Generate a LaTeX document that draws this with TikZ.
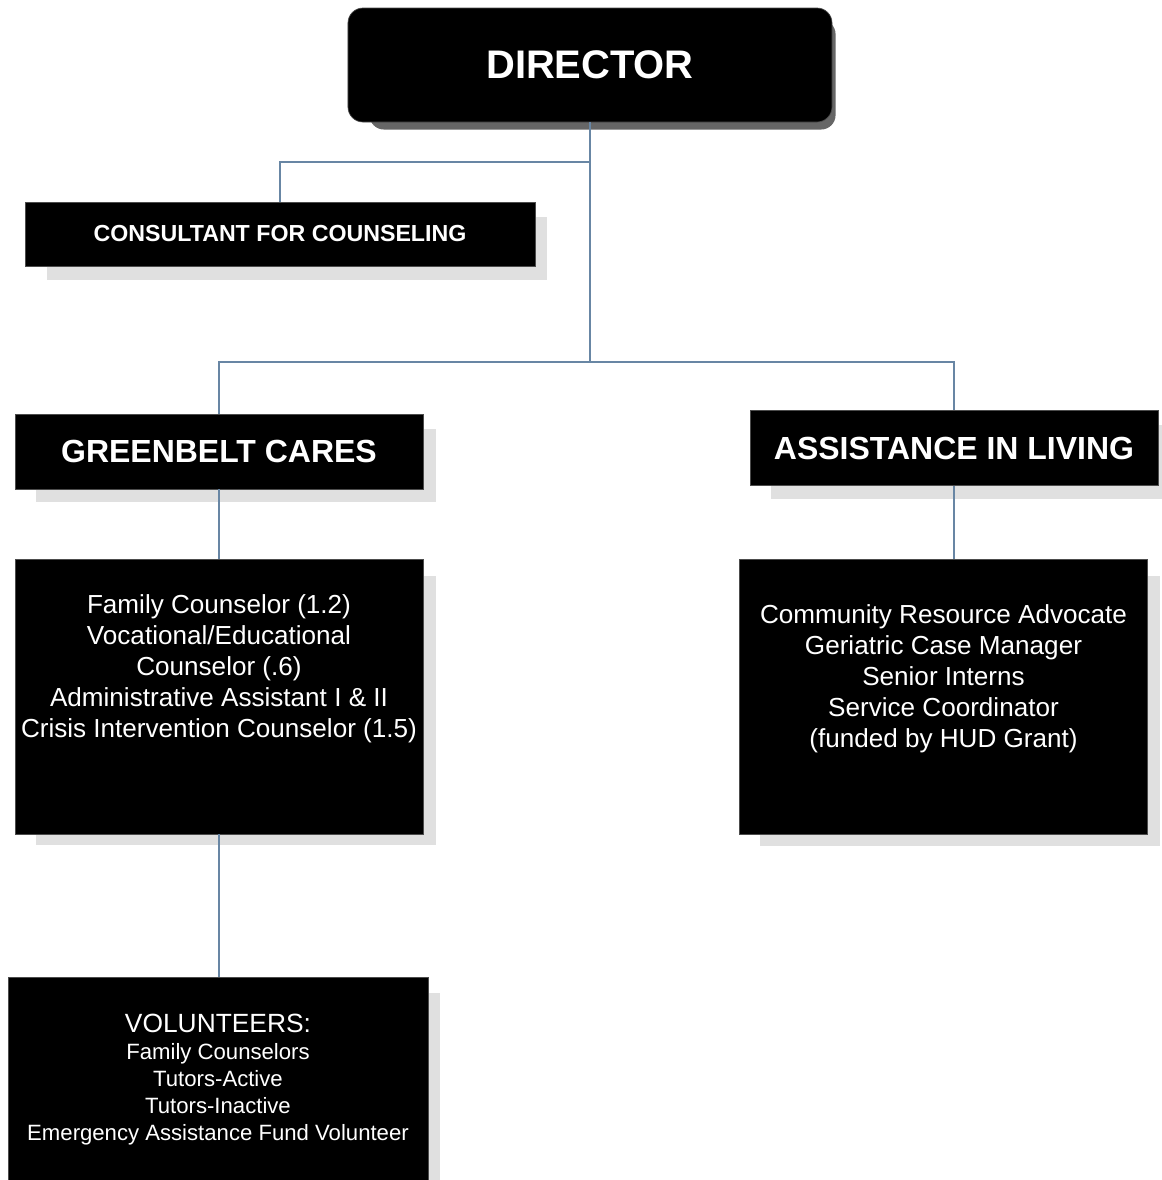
\documentclass[tikz,border=0pt]{standalone}
\usepackage{fontspec}
\setmainfont{Liberation Sans}
\usepackage{tikz}
\usetikzlibrary{positioning,shadows}
\definecolor{LinkBlue}{RGB}{104,134,164}

\begin{document}
\begin{tikzpicture}[x=0.2mm, y=-0.2mm]
    \tikzstyle{org-box}=[rectangle, draw=black!70, line width=0.4pt, fill=black, text=white, inner sep=0pt]
    \tikzstyle{light-shadow}=[drop shadow={shadow xshift=3.4mm, shadow yshift=-2.9mm, shadow scale=0.98, fill=black!12, opacity=1}]
    \tikzstyle{org-head}=[org-box, light-shadow, minimum width=81.6mm, minimum height=15mm, font=\fontsize{18.2}{20}\selectfont\bfseries]
    \tikzstyle{org-staff}=[org-box, light-shadow, minimum width=81.6mm, minimum height=55mm]
    \tikzstyle{staff-text}=[text=white, align=center, inner sep=0pt, font=\fontsize{14.85}{17.6}\selectfont]
    \tikzstyle{liaison}=[draw=LinkBlue, line width=0.4mm]

    \useasboundingbox (0,0) rectangle (1162,1180);
    \clip (0,0) rectangle (1162,1180);

    \node[org-box, rounded corners=3mm, minimum width=96.8mm, minimum height=22.8mm, font=\fontsize{22.7}{26}\selectfont\bfseries, drop shadow={shadow xshift=2.6mm, shadow yshift=-2mm, shadow scale=0.963, fill=black!60, opacity=1}] (director) at (590,65) {DIRECTOR};

    \node[org-box, light-shadow, minimum width=102mm, minimum height=12.8mm, font=\fontsize{13.2}{15}\selectfont\bfseries] (consultant) at (280,234) {CONSULTANT FOR COUNSELING};

    \node[org-head] (greenbelt-cares) at (219,451.5) {GREENBELT CARES};
    \node[org-head] (assistance-living) at (954,448) {ASSISTANCE IN LIVING};

    \node[org-staff] (greenbelt-staff) at (219,696.5) {};
    \node[staff-text] (greenbelt-staff-text) at (219,669) {Family Counselor (1.2)\\ Vocational/Educational\\ Counselor (.6)\\ Administrative Assistant I \& II\\ Crisis Intervention Counselor (1.5)};

    \node[org-staff] (assistance-staff) at (943.5,697) {};
    \node[staff-text] (assistance-staff-text) at (943.5,678.5) {Community Resource Advocate\\ Geriatric Case Manager\\ Senior Interns\\ Service Coordinator\\ (funded by HUD Grant)};

    \node[org-box, light-shadow, minimum width=84mm, minimum height=44.4mm] (volunteers) at (218,1088) {};
    \node[staff-text, anchor=north, font=\fontsize{12.6}{15.3}\selectfont] (volunteers-text) at (218,1014) {{\fontsize{15}{15.3}\selectfont VOLUNTEERS:}\\ Family Counselors\\ Tutors-Active\\ Tutors-Inactive\\ Emergency Assistance Fund Volunteer};

    % connectors
    \coordinate (branch) at (590,362);
    \coordinate (consult-bend) at (590,162);
    \draw[liaison] (director.south) -- (branch);
    \draw[liaison] (consult-bend) -| (consultant.north);
    \draw[liaison] (greenbelt-cares.north) |- (branch) -| (assistance-living.north);
    \draw[liaison] (greenbelt-cares.south) -- (greenbelt-staff.north);
    \draw[liaison] (assistance-living.south) -- (assistance-living.south |- assistance-staff.north);
    \draw[liaison] (greenbelt-staff.south) -- (greenbelt-staff.south |- volunteers.north);
\end{tikzpicture}
\end{document}
